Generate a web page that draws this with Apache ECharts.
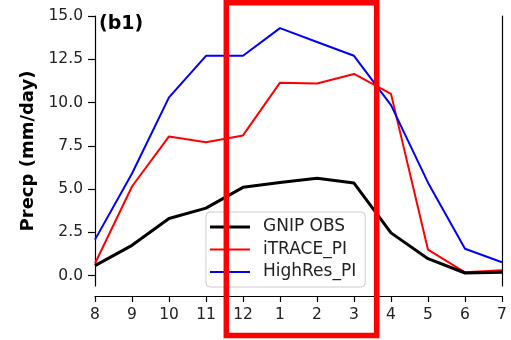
<!DOCTYPE html>
<html><head><meta charset="utf-8">
<script src="https://cdn.jsdelivr.net/npm/echarts@6/dist/echarts.min.js"></script>
<style>html,body{margin:0;padding:0;background:#fff}#c{width:511px;height:340px}</style>
</head><body><div id="c"></div>
<script>
const months = ['8','9','10','11','12','1','2','3','4','5','6','7'];
const gnipObs = [0.58, 1.75, 3.3, 3.9, 5.1, 5.38, 5.62, 5.35, 2.47, 0.98, 0.15, 0.2];
const itracePI = [0.7, 5.15, 8.04, 7.7, 8.1, 11.15, 11.1, 11.65, 10.5, 1.5, 0.19, 0.31];
const highresPI = [2.08, 5.9, 10.3, 12.7, 12.7, 14.3, 13.5, 12.7, 9.85, 5.37, 1.55, 0.77];
const yTicks = [0, 2.5, 5, 7.5, 10, 12.5, 15];

const font = 'DejaVu Sans';
const chart = echarts.init(document.getElementById('c'), null, {renderer: 'canvas'});
chart.setOption({
  animation: false,
  backgroundColor: '#fff',
  grid: {left: 95, right: 9, top: 16, bottom: 54},
  xAxis: {
    type: 'category', data: months, boundaryGap: false, offset: 10,
    axisLine: {onZero: false, lineStyle: {color: '#000', width: 1.2}},
    axisTick: {alignWithLabel: true, length: 6, lineStyle: {color: '#000', width: 1.2}},
    axisLabel: {color: '#222', fontFamily: font, fontSize: 15.5, margin: 11, interval: 0},
    splitLine: {show: false}
  },
  yAxis: [{
    type: 'value', min: -0.6, max: 15,
    axisLine: {show: true, onZero: false, lineStyle: {color: '#000', width: 1.2}},
    axisTick: {show: true, length: 7, customValues: yTicks, lineStyle: {color: '#000', width: 1.2}},
    axisLabel: {color: '#222', fontFamily: font, fontSize: 15.5, margin: 12, customValues: yTicks,
      formatter: v => v.toFixed(1)},
    splitLine: {show: false},
    name: 'Precp (mm/day)', nameLocation: 'middle', nameGap: 56,
    nameTextStyle: {fontFamily: font, fontSize: 18, fontWeight: 'bold', color: '#000'}
  }, {
    type: 'value', min: -0.6, max: 15, position: 'right',
    axisLine: {show: true, onZero: false, lineStyle: {color: '#000', width: 1.2}},
    axisTick: {show: false}, axisLabel: {show: false}, splitLine: {show: false}
  }],
  legend: {
    left: 206, top: 212, orient: 'vertical',
    itemWidth: 40, itemHeight: 14, itemGap: 5.5,
    padding: [6.5, 9, 6.5, 4],
    borderColor: '#cccccc', borderWidth: 1, borderRadius: 4,
    backgroundColor: 'rgba(255,255,255,0.85)',
    textStyle: {fontFamily: font, fontSize: 17, color: '#222', padding: [0, 0, 0, 8]},
    data: [
      {name: 'GNIP OBS', icon: 'path://M0,0H40V3H0Z'},
      {name: 'iTRACE_PI', icon: 'path://M0,0H40V2H0Z'},
      {name: 'HighRes_PI', icon: 'path://M0,0H40V2H0Z'}
    ]
  },
  series: [
    {name: 'GNIP OBS', type: 'line', data: gnipObs, symbol: 'none', color: '#000',
     lineStyle: {width: 3, color: '#000'}, z: 3},
    {name: 'iTRACE_PI', type: 'line', data: itracePI, symbol: 'none', color: '#ff0000',
     lineStyle: {width: 2, color: '#ff0000'}, z: 2},
    {name: 'HighRes_PI', type: 'line', data: highresPI, symbol: 'none', color: '#0000ff',
     lineStyle: {width: 2, color: '#0000ff'}, z: 2}
  ],
  graphic: [
    {type: 'text', left: 99, top: 15, z: 10,
     style: {text: '(b1)', fontFamily: font, fontSize: 19, fontWeight: 'bold', fill: '#000'}},
    {type: 'rect', z: 100, shape: {x: 226.3, y: 2.7, width: 150.4, height: 332.8},
     style: {fill: 'none', stroke: '#ff0000', lineWidth: 5.5}}
  ]
});
</script></body></html>
